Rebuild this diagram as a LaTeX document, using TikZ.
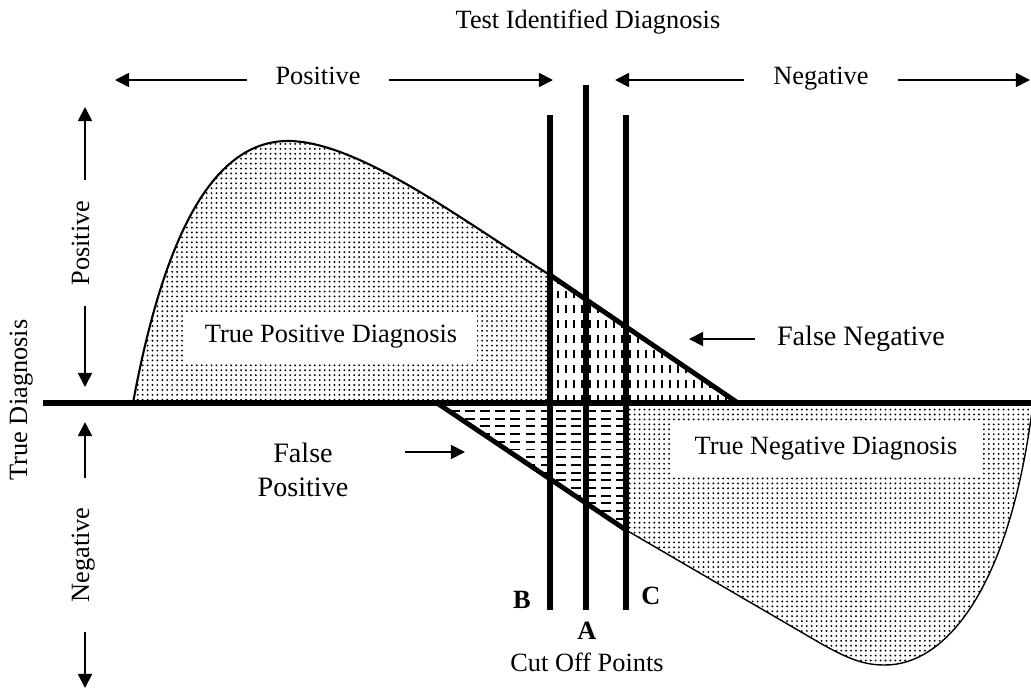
\documentclass[tikz,border=0pt]{standalone}
\usepackage{fontspec}
\setmainfont{Liberation Serif}
\usetikzlibrary{arrows.meta, patterns.meta, positioning}
\tikzset{
    axisline/.style={line width=2.9pt},
    cutline/.style={line width=3pt},
    edgeline/.style={line width=2.8pt, line join=round},
    curveline/.style={line width=1.2pt},
    tailline/.style={line width=0.8pt},
    arr/.style={-{Triangle[length=8pt,width=8pt]}, line width=1pt},
    dotfill/.style={pattern={Dots[distance=2.8pt,radius=0.6pt]}},
    vdash/.style={line width=1.1pt, dash pattern=on 4.5pt off 4pt},
    hdash/.style={line width=1.1pt, dash pattern=on 5.6pt off 3pt},
    lbl/.style={font=\fontsize{15}{18}\selectfont, inner sep=0pt, text height=0.68em, text depth=0.22em},
    falselbl/.style={font=\fontsize{16}{19}\selectfont, align=center, inner sep=0pt},
    cutlbl/.style={font=\fontsize{15}{18}\selectfont\bfseries, inner sep=0pt},
    areabox/.style={fill=white, font=\fontsize{15}{18}\selectfont, inner sep=0pt},
}

\begin{document}
\begin{tikzpicture}[x=0.02cm, y=-0.02cm]
    \useasboundingbox (0,0) rectangle (1031,690);

    % Key points of the two curves
    \coordinate (tpStart) at (133,403);
    \coordinate (peak) at (288,141);
    \coordinate (fnTop) at (550,275);
    \coordinate (fnEnd) at (738,403);
    \coordinate (fpStart) at (437,403);
    \coordinate (fpEnd) at (626,530);
    \coordinate (tnBend) at (820,643);
    \coordinate (tnLow) at (885,665);
    \coordinate (tnEnd) at (1033,403);

    % Dotted areas
    \fill[dotfill] (tpStart) .. controls (165,230) and (215,141) .. (peak)
        .. controls (360,141) and (470,226) .. (fnTop) -- (550,403) -- cycle;
    \fill[dotfill] (626,403) -- (fpEnd) -- (tnBend) .. controls (850,660) and (865,665) .. (tnLow)
        .. controls (945,665) and (1010,590) .. (tnEnd) -- cycle;

    % False negative hatching
    \begin{scope}
        \clip (fnTop) -- (fnEnd) -- (550,403) -- cycle;
        \foreach \x in {558,566,...,738}
            \draw[vdash] (\x,403) -- (\x,265);
    \end{scope}

    % False positive hatching
    \begin{scope}
        \clip (fpStart) -- (fpEnd) -- (626,403) -- cycle;
        \foreach \y in {411,418.7,...,532}
            \draw[hdash] (626,\y) -- (430,\y);
    \end{scope}

    % Area labels
    \node[areabox, minimum width=5.84cm, minimum height=1cm] (tpArea) at (331,337) {True Positive Diagnosis};
    \node[areabox, minimum width=6.26cm, minimum height=1.06cm] (tnArea) at (826,449) {True Negative Diagnosis};

    % Curves
    \draw[curveline] (tpStart) .. controls (165,230) and (215,141) .. (peak)
        .. controls (360,141) and (470,226) .. (fnTop);
    \draw[edgeline] (fnTop) -- (fnEnd);
    \draw[edgeline] (fpStart) -- (fpEnd);
    \draw[tailline] (fpEnd) -- (tnBend) .. controls (850,660) and (865,665) .. (tnLow)
        .. controls (945,665) and (1010,590) .. (tnEnd);

    % Cut off lines
    \coordinate (Btop) at (550,115);
    \coordinate (Bbot) at (550,610);
    \coordinate (Atop) at (586,85);
    \coordinate (Abot) at (586,610);
    \coordinate (Ctop) at (626,115);
    \coordinate (Cbot) at (626,610);
    \draw[cutline] (Btop) -- (Bbot);
    \draw[cutline] (Atop) -- (Abot);
    \draw[cutline] (Ctop) -- (Cbot);

    % Axis
    \coordinate (axL) at (43,403);
    \coordinate (axR) at (1031,403);
    \draw[axisline] (axL) -- (axR);

    \node[cutlbl] (labB) at (522,600) {B};
    \node[cutlbl] (labA) at (587,631) {A};
    \node[cutlbl] (labC) at (651,596) {C};
    \node[lbl] (cutTitle) at (587,667) {Cut Off Points};

    % Test identified diagnosis
    \node[lbl] (testTitle) at (588,24) {Test Identified Diagnosis};
    \node[lbl, inner xsep=0.56cm] (tPos) at (318,80) {Positive};
    \node[lbl, inner xsep=0.58cm] (tNeg) at (821,80) {Negative};
    \coordinate (tPosL) at (115,80);
    \coordinate (tPosR) at (553,80);
    \coordinate (tNegL) at (615,80);
    \coordinate (tNegR) at (1030,80);
    \draw[arr] (tPos) -- (tPosL);
    \draw[arr] (tPos) -- (tPosR);
    \draw[arr] (tNeg) -- (tNegL);
    \draw[arr] (tNeg) -- (tNegR);

    % True diagnosis
    \node[lbl, rotate=90] (trueTitle) at (23,400) {True Diagnosis};
    \node[lbl, rotate=90, inner xsep=0.4cm] (vPos) at (85,243) {Positive};
    \node[lbl, rotate=90, inner xsep=0.59cm] (vNeg) at (85,555) {Negative};
    \coordinate (vPosT) at (85,107);
    \coordinate (vPosB) at (85,387);
    \coordinate (vNegT) at (85,422);
    \coordinate (vNegB) at (85,688);
    \draw[arr] (vPos) -- (vPosT);
    \draw[arr] (vPos) -- (vPosB);
    \draw[arr] (vNeg) -- (vNegT);
    \draw[arr] (vNeg) -- (vNegB);

    % False labels
    \node[falselbl, inner xsep=0.44cm] (fNeg) at (861,339) {False Negative};
    \coordinate (fNegTip) at (689,339);
    \draw[arr] (fNeg) -- (fNegTip);
    \node[falselbl] (fPos) at (303,470) {False\\Positive};
    \coordinate (fPosTail) at (405,452);
    \coordinate (fPosTip) at (465,452);
    \draw[arr] (fPosTail) -- (fPosTip);
\end{tikzpicture}
\end{document}
